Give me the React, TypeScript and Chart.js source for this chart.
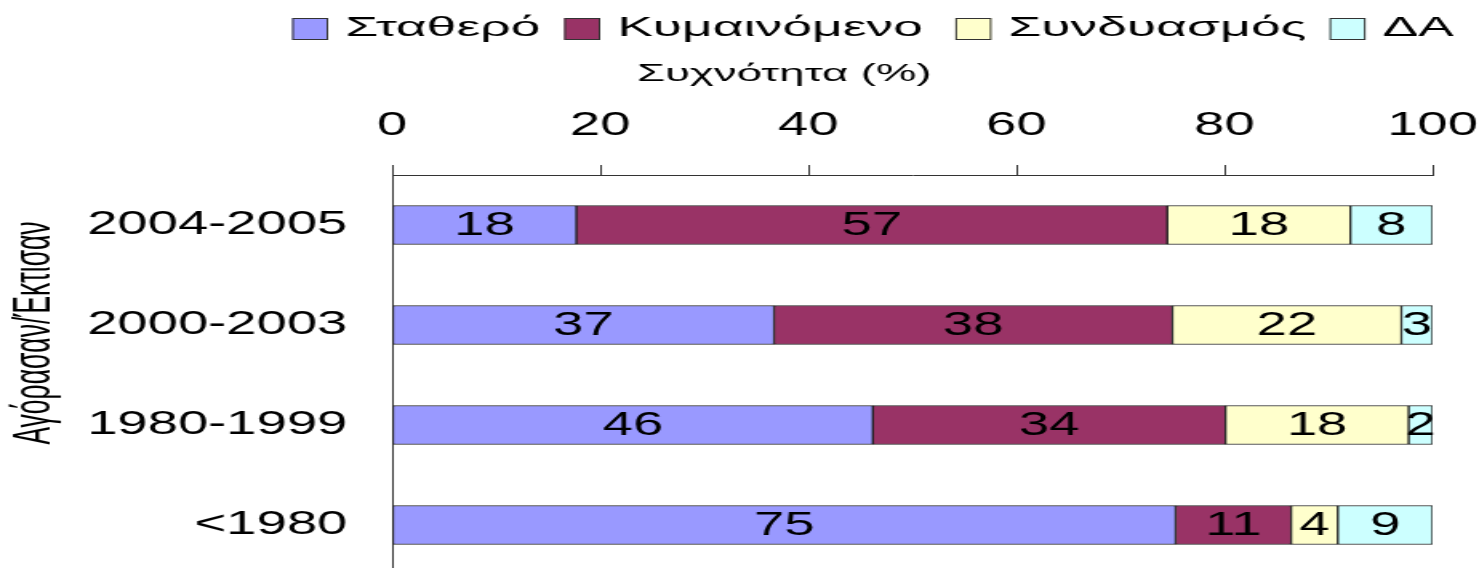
import React, { useEffect, useRef } from "react";
import { Chart, registerables } from "chart.js";

Chart.register(...registerables);

const categories = ["2004-2005", "2000-2003", "1980-1999", "<1980"];
const stathero = [17.7, 36.7, 46.2, 75.3];
const kymainomeno = [56.8, 38.3, 33.9, 11.1];
const syndyasmos = [17.6, 22.0, 17.6, 4.49];
const da = [7.9, 3.0, 2.3, 9.11];
const seriesNames = ["Σταθερό", "Κυμαινόμενο", "Συνδυασμός", "ΔΑ"];
const seriesColors = ["#9999FF", "#993366", "#FFFFCC", "#CCFFFF"];
const xTicks = [0, 20, 40, 60, 80, 100];
const xTitle = "Συχνότητα (%)";
const yTitle = "Αγόρασαν/Έκτισαν";

// layout (physical pixels)
const STRETCH = 1.6;
const PHYS_W = 1479;
const LOG_W = Math.round(PHYS_W / STRETCH);
const H = 575;
const FONT = "'Liberation Sans', Arial, sans-serif";
const legendTextX = [345, 617, 1008, 1382];

const decorPlugin = {
  id: "decor",
  afterDatasetsDraw(chart: any) {
    const ctx = chart.ctx;
    ctx.save();
    ctx.font = `34px ${FONT}`;
    ctx.fillStyle = "#000";
    ctx.textAlign = "center";
    ctx.textBaseline = "middle";
    chart.data.datasets.forEach((ds: any, di: number) => {
      const meta = chart.getDatasetMeta(di);
      meta.data.forEach((bar: any, i: number) => {
        const v = ds.data[i] as number;
        const cx = (bar.x + bar.base) / 2;
        ctx.fillText(String(Math.round(v)), cx, bar.y + 1);
      });
    });
    ctx.restore();
  },
  afterDraw(chart: any) {
    const ctx = chart.ctx;
    ctx.save();
    // legend
    const boxW = 36 / STRETCH;
    const boxH = 22;
    const boxY = 18;
    seriesNames.forEach((name, i) => {
      const tx = legendTextX[i] / STRETCH;
      const bx = (legendTextX[i] - 53) / STRETCH;
      ctx.fillStyle = seriesColors[i];
      ctx.fillRect(bx, boxY, boxW, boxH);
      ctx.strokeStyle = "#333";
      ctx.lineWidth = 1;
      ctx.strokeRect(bx + 0.5, boxY + 0.5, boxW - 1, boxH - 1);
      ctx.save();
      ctx.translate(tx, 28);
      ctx.scale(1.17, 1);
      ctx.font = `28.5px ${FONT}`;
      ctx.textAlign = "left";
      ctx.textBaseline = "middle";
      ctx.fillStyle = "#000";
      ctx.fillText(name, 0, 0);
      ctx.restore();
    });
    // x title
    ctx.save();
    ctx.translate(784 / STRETCH, 75);
    ctx.scale(1.21, 1);
    ctx.font = `23.5px ${FONT}`;
    ctx.textAlign = "center";
    ctx.textBaseline = "middle";
    ctx.fillStyle = "#000";
    ctx.fillText(xTitle, 0, 0);
    ctx.restore();
    // y title
    ctx.save();
    ctx.translate(35 / STRETCH, 333);
    ctx.rotate(-Math.PI / 2);
    ctx.scale(1, 1.25);
    ctx.font = `26.5px ${FONT}`;
    ctx.textAlign = "center";
    ctx.textBaseline = "middle";
    ctx.fillStyle = "#000";
    ctx.fillText(yTitle, 0, 0);
    ctx.restore();
    ctx.restore();
  },
};

export default function App() {
  const ref = useRef<HTMLCanvasElement | null>(null);
  useEffect(() => {
    if (!ref.current) return;
    const datasetsValues = [stathero, kymainomeno, syndyasmos, da];
    const chart = new Chart(ref.current, {
      type: "bar",
      data: {
        labels: categories,
        datasets: datasetsValues.map((vals, i) => ({
          label: seriesNames[i],
          data: vals,
          backgroundColor: seriesColors[i],
          borderColor: "#222",
          borderWidth: 1,
          borderSkipped: false,
          barThickness: 39,
        })),
      },
      options: {
        indexAxis: "y",
        responsive: false,
        animation: false,
        devicePixelRatio: 1,
        layout: { padding: { left: 0, right: LOG_W - 1432 / STRETCH, top: 0, bottom: 0 } },
        plugins: {
          legend: { display: false },
          tooltip: { enabled: false },
          title: { display: false },
        },
        scales: {
          x: {
            type: "linear",
            position: "top",
            stacked: true,
            min: 0,
            max: 100,
            afterBuildTicks: (s: any) => {
              s.ticks = xTicks.map((v) => ({ value: v }));
            },
            afterFit: (s: any) => {
              s.height = 175;
              s.paddingLeft = 0;
              s.paddingRight = 0;
            },
            grid: {
              display: true,
              drawOnChartArea: false,
              drawTicks: true,
              tickLength: 10,
              color: "#333",
              lineWidth: 1,
            },
            border: { display: true, color: "#333", width: 1 },
            ticks: {
              padding: 19,
              color: "#000",
              font: { family: FONT, size: 34 },
            },
          },
          y: {
            type: "category",
            stacked: true,
            offset: true,
            afterFit: (s: any) => {
              s.width = 392 / STRETCH;
              s.paddingTop = 0;
              s.paddingBottom = 0;
            },
            grid: { display: true, drawOnChartArea: false, drawTicks: false },
            border: { display: true, color: "#333", width: 1 },
            ticks: {
              padding: 28,
              color: "#000",
              font: { family: FONT, size: 34 },
            },
          },
        },
      },
      plugins: [decorPlugin],
    } as any);
    return () => chart.destroy();
  }, []);

  return (
    <div
      style={{
        position: "fixed",
        left: 0,
        top: 0,
        width: PHYS_W,
        height: 568,
        overflow: "hidden",
        background: "#fff",
      }}
    >
      <canvas
        ref={ref}
        width={LOG_W}
        height={H}
        style={{ width: `${PHYS_W}px`, height: `${H}px`, display: "block" }}
      />
    </div>
  );
}
